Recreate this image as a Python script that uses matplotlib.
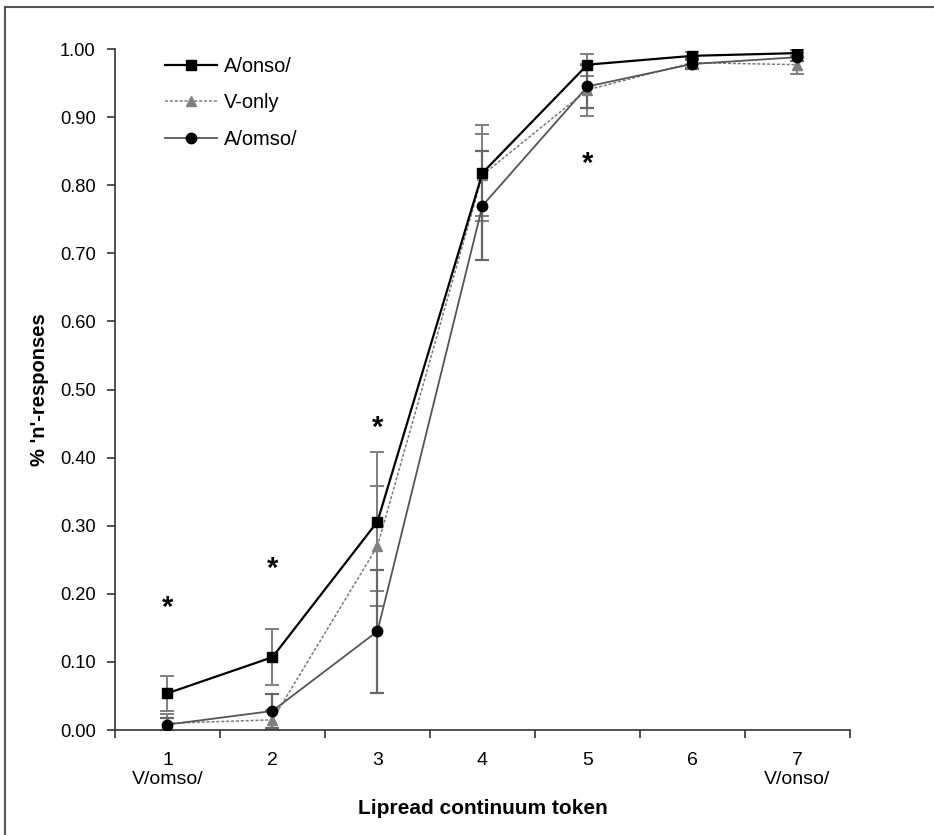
import matplotlib
matplotlib.use('Agg')
import matplotlib.pyplot as plt
import numpy as np

plt.rcParams['font.family'] = ['Liberation Sans', 'DejaVu Sans']

# data
tokens = [1, 2, 3, 4, 5, 6, 7]
tick_labels = ['1\nV/omso/', '2', '3', '4', '5', '6', '7\nV/onso/']

a_onso = [0.054, 0.107, 0.306, 0.818, 0.977, 0.990, 0.994]
a_onso_err = [0.026, 0.041, 0.102, 0.071, 0.016, 0.006, 0.005]

v_only = [0.010, 0.015, 0.270, 0.815, 0.940, 0.980, 0.977]
v_only_err = [0.014, 0.014, 0.088, 0.060, 0.038, 0.008, 0.013]

a_omso = [0.008, 0.028, 0.145, 0.770, 0.945, 0.978, 0.988]
a_omso_err = [0.010, 0.025, 0.090, 0.080, 0.031, 0.007, 0.006]

star_x = [1, 2, 3, 5]
star_y = [0.188, 0.245, 0.452, 0.839]

fig = plt.figure(figsize=(9.34, 8.35), dpi=100)
ax = fig.add_axes([0.1231, 0.1257, 0.7869, 0.8156])

# outer frame (top and left edge visible)
fig.add_artist(plt.Line2D([0.005, 1.0], [0.992, 0.992], transform=fig.transFigure, color='#555555', lw=1.5))
fig.add_artist(plt.Line2D([0.005, 0.005], [0.0, 0.992], transform=fig.transFigure, color='#555555', lw=1.5))

ecol = '#7f7f7f'
ax.errorbar(tokens, a_onso, yerr=a_onso_err, fmt='none', ecolor=ecol, elinewidth=1.4, capsize=5, capthick=1.4, zorder=2)
ax.errorbar(tokens, v_only, yerr=v_only_err, fmt='none', ecolor=ecol, elinewidth=1.4, capsize=5, capthick=1.4, zorder=2)
ax.errorbar(tokens, a_omso, yerr=a_omso_err, fmt='none', ecolor='#666666', elinewidth=1.6, capsize=5, capthick=1.6, zorder=2)

ax.plot(tokens, a_onso, color='black', lw=1.6, marker='s', ms=7.5, mfc='black', mec='black', label='A/onso/', zorder=4)
ax.plot(tokens, v_only, color='#7a7a7a', lw=1.1, ls=(0, (2, 1.2)), marker='^', ms=6.5, mfc='#808080', mec='#808080', label='V-only', zorder=3)
ax.plot(tokens, a_omso, color='#555555', lw=1.3, marker='o', ms=7.5, mfc='black', mec='black', label='A/omso/', zorder=3)

# significance stars (glyph sits high in its box, nudge down a bit)
for sx, sy in zip(star_x, star_y):
    ax.annotate('*', (sx, sy), xytext=(0, -4), textcoords='offset points',
                ha='center', va='center', fontsize=21, fontweight='bold', color='black')

ax.set_xlim(0.5, 7.5)
ax.set_ylim(0, 1.0)
ax.set_yticks(np.arange(0, 1.01, 0.1))
ax.set_yticklabels(['%.2f' % v for v in np.arange(0, 1.01, 0.1)], fontsize=13.2)
ax.set_xticks(tokens)
ax.set_xticklabels(tick_labels, fontsize=14, linespacing=1.1)
ax.set_xticks(np.arange(0.5, 7.6, 1), minor=True)
ax.tick_params(axis='x', which='major', length=0, pad=16)
ax.tick_params(axis='x', which='minor', length=6, width=1.2, direction='out', color='#333333')
ax.tick_params(axis='y', length=6, width=1.2, direction='out', color='#333333', pad=8)

for s in ['top', 'right']:
    ax.spines[s].set_visible(False)
for s in ['left', 'bottom']:
    ax.spines[s].set_color('#333333')
    ax.spines[s].set_linewidth(1.2)

ax.set_xlabel('Lipread continuum token', fontsize=15, fontweight='bold', labelpad=8)
ax.set_ylabel("% 'n'-responses", fontsize=14.5, fontweight='bold', labelpad=8)

ax.legend(loc='upper left', bbox_to_anchor=(0.043, 1.015), frameon=False, fontsize=14.4,
          handlelength=2.6, handletextpad=0.35, labelspacing=0.87)

fig.savefig('out.png', dpi=100)
